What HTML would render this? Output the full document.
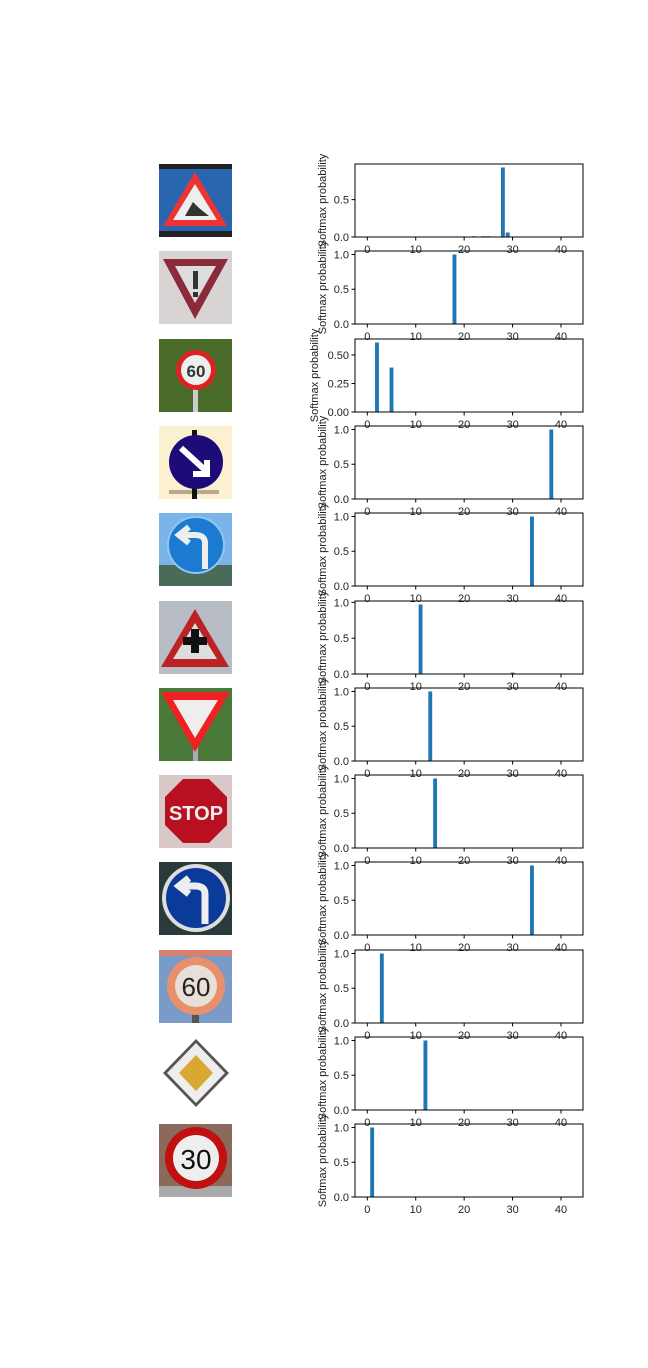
<!DOCTYPE html>
<html><head><meta charset="utf-8"><style>
body{margin:0;background:#fff;width:648px;height:1368px;overflow:hidden;font-family:"Liberation Sans",sans-serif}
svg{position:absolute;left:0;top:0}
</style></head><body>
<svg id="fig" width="648" height="1368"></svg>
<script>
const rowTops=[164,251,339,426,513,601,688,775,862,950,1037,1124];
const rowClasses=[[22,24,25,28,29],[18],[2,5],[38],[34],[11,30],[13],[14],[34],[3],[12],[1]];
const rowProbs=[[0.01,0.01,0.01,0.93,0.06],[1.0],[0.61,0.39],[1.0],[1.0],[0.97,0.02],[1.0],[1.0],[1.0],[1.0],[1.0],[1.0]];
const rowYTicks=[[0,0.5],[0,0.5,1.0],[0,0.25,0.5],[0,0.5,1.0],[0,0.5,1.0],[0,0.5,1.0],[0,0.5,1.0],[0,0.5,1.0],[0,0.5,1.0],[0,0.5,1.0],[0,0.5,1.0],[0,0.5,1.0]];
const rowYFmt=[1,1,2,1,1,1,1,1,1,1,1,1];
const xTicks=[0,10,20,30,40];
const NS="http://www.w3.org/2000/svg";
const svg=document.getElementById('fig');
const AX0=355,AX1=583,AH=73,XMIN=-2.54,XMAX=44.54;
function xs(v){return AX0+(v-XMIN)/(XMAX-XMIN)*(AX1-AX0);}
function mk(tag,at,parent){const e=document.createElementNS(NS,tag);for(const k in at)e.setAttribute(k,at[k]);(parent||svg).appendChild(e);return e;}
const signs=[
`<rect width="73" height="73" fill="#2a66b0"/><rect width="73" height="5" fill="#222"/><rect y="67" width="73" height="6" fill="#222"/><polygon points="36,8 68,62 4,62" fill="#e33"/><polygon points="36,20 58,56 14,56" fill="#eee"/><path d="M26,52 l8,-14 l6,6 l10,8 z" fill="#333"/>`,
`<rect width="73" height="73" fill="#d8d4d4"/><polygon points="4,8 69,8 36,68" fill="#8b2a3a"/><polygon points="16,15 57,15 36,52" fill="#ddd"/><rect x="34" y="20" width="5" height="18" fill="#333"/><rect x="34" y="41" width="5" height="5" fill="#333"/>`,
`<rect width="73" height="73" fill="#4a6a2a"/><rect x="34" y="50" width="5" height="23" fill="#ccc"/><circle cx="37" cy="31" r="20" fill="#d22"/><circle cx="37" cy="31" r="15" fill="#eee"/><text x="37" y="38" font-size="17" font-weight="bold" text-anchor="middle" fill="#333">60</text>`,
`<rect width="73" height="73" fill="#fbf0d0"/><rect x="10" y="64" width="50" height="4" fill="#b8a890"/><rect x="33" y="4" width="5" height="69" fill="#111"/><circle cx="37" cy="36" r="27" fill="#1e0b7a"/><path d="M22,22 L46,44 M48,34 L48,48 L34,48" stroke="#fff" stroke-width="6" fill="none"/>`,
`<rect width="73" height="73" fill="#7ab4e8"/><rect y="52" width="73" height="21" fill="#4a6a5a"/><circle cx="37" cy="32" r="28" fill="#1c7ad0" stroke="#8cc8f0" stroke-width="2"/><path d="M46,56 L46,30 Q46,22 36,22 L24,22 M30,14 L20,22 L30,30" stroke="#eee" stroke-width="6" fill="none"/>`,
`<rect width="73" height="73" fill="#b8bcc4"/><polygon points="36,8 70,66 2,66" fill="#b22"/><polygon points="36,22 58,58 14,58" fill="#ddd"/><path d="M32,28 h8 v8 h8 v8 h-8 v8 h-8 v-8 h-8 v-8 h8 z" fill="#111"/>`,
`<rect width="73" height="73" fill="#4a7a3a"/><rect x="34" y="50" width="5" height="23" fill="#aab"/><polygon points="2,4 71,4 36,64" fill="#e22"/><polygon points="14,12 59,12 36,50" fill="#eee"/>`,
`<rect width="73" height="73" fill="#d8c8c8"/><polygon points="24,4 50,4 68,22 68,50 50,68 24,68 6,50 6,22" fill="#b81020"/><text x="37" y="45" font-size="20" font-weight="bold" text-anchor="middle" fill="#eee">STOP</text>`,
`<rect width="73" height="73" fill="#2a3a3a"/><circle cx="37" cy="36" r="34" fill="#ddd"/><circle cx="37" cy="36" r="30" fill="#0a3a9a"/><path d="M46,62 L46,32 Q46,24 36,24 L24,24 M30,16 L20,24 L30,32" stroke="#eee" stroke-width="7" fill="none"/>`,
`<rect width="73" height="73" fill="#7a9ac8"/><rect width="73" height="6" fill="#d88070"/><rect x="33" y="60" width="7" height="13" fill="#555"/><circle cx="37" cy="36" r="29" fill="#e8906a"/><circle cx="37" cy="36" r="21" fill="#e8e0d8"/><text x="37" y="46" font-size="26" text-anchor="middle" fill="#222">60</text>`,
`<rect width="73" height="73" fill="#fff"/><polygon points="37,2 70,36 37,70 4,36" fill="#555"/><polygon points="37,6 66,36 37,66 8,36" fill="#eee"/><polygon points="37,18 54,36 37,54 20,36" fill="#d8a830"/>`,
`<rect width="73" height="73" fill="#8a6a5a"/><rect y="62" width="73" height="11" fill="#aaa"/><circle cx="37" cy="34" r="31" fill="#c01010"/><circle cx="37" cy="34" r="23" fill="#eee"/><text x="37" y="45" font-size="28" text-anchor="middle" fill="#111">30</text>`
];
rowTops.forEach((top,r)=>{
  const g=mk('g',{});
  
  
  const img=mk('svg',{x:159,y:top,width:73,height:73,viewBox:'0 0 73 73'},g);
  
  
  img.innerHTML=signs[r];
  const probs=rowProbs[r];
  const ymax=Math.max(...probs)*1.05;
  const ys=v=>top+AH-v/ymax*AH;
  rowClasses[r].forEach((c,i)=>{
    const b=mk('rect',{x:xs(c-0.4),y:ys(probs[i]),width:xs(c+0.4)-xs(c-0.4),height:top+AH-ys(probs[i]),fill:'#1f77b4'},g);
    
    
  });
  const frame=mk('rect',{x:AX0,y:top,width:AX1-AX0,height:AH,fill:'none',stroke:'#000','stroke-width':1},g);
  
  
  xTicks.forEach(t=>{
    const x=xs(t);
    mk('line',{x1:x,x2:x,y1:top+AH,y2:top+AH+3.5,stroke:'#000'},g);
    const tx=mk('text',{x:x,y:top+AH+16,'font-size':11,'text-anchor':'middle',fill:'#222'},g);
    
    
    tx.textContent=t;
  });
  rowYTicks[r].forEach(t=>{
    if(t>ymax)return;
    const y=ys(t);
    mk('line',{x1:AX0-3.5,x2:AX0,y1:y,y2:y,stroke:'#000'},g);
    const tx=mk('text',{x:AX0-6,y:y+4,'font-size':11,'text-anchor':'end',fill:'#222'},g);
    
    
    tx.textContent=t.toFixed(rowYFmt[r]);
  });
  const yl=mk('text',{x:0,y:0,'font-size':11,'text-anchor':'middle',fill:'#222',transform:`translate(${rowYFmt[r]==2?318:326},${top+AH/2}) rotate(-90)`},g);
  
  
  yl.textContent='Softmax probability';
});
</script>
</body></html>
